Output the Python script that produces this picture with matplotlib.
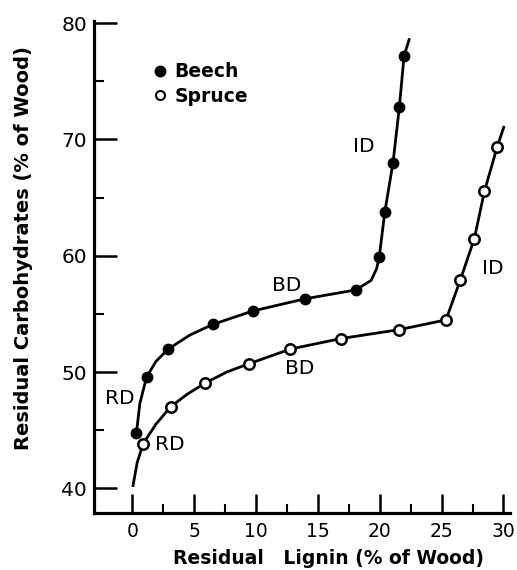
import matplotlib
matplotlib.use("Agg")
import matplotlib.pyplot as plt
from matplotlib.lines import Line2D
from matplotlib.ticker import FixedLocator

# Data
beech_x = [0.32, 1.14, 2.89, 6.49, 9.71, 13.98, 18.07, 19.96, 20.4, 21.07, 21.58, 21.96]
beech_y = [44.74, 49.55, 51.97, 54.09, 55.24, 56.30, 57.06, 59.91, 63.73, 68.01, 72.77, 77.17]
# drawn curve vertices (incl. bends and line ends)
beech_line_x = [0.32, 0.6, 1.14, 1.89, 2.89, 4.65, 6.49, 9.71, 13.98, 18.07, 19.3, 19.75, 19.96, 20.4, 21.07, 21.58, 21.96, 22.37]
beech_line_y = [44.74, 47.3, 49.55, 50.9, 51.97, 53.18, 54.09, 55.24, 56.30, 57.06, 57.88, 58.9, 59.91, 63.73, 68.01, 72.77, 77.17, 78.58]

spruce_x = [0.87, 3.08, 5.87, 9.39, 12.77, 16.88, 21.56, 25.35, 26.5, 27.64, 28.46, 29.48]
spruce_y = [43.84, 47.0, 49.04, 50.70, 51.97, 52.88, 53.64, 54.48, 57.88, 61.46, 65.53, 69.32]
spruce_line_x = [0.05, 0.38, 0.87, 1.89, 3.08, 4.44, 5.87, 7.63, 9.39, 12.77, 16.88, 21.56, 25.35, 26.5, 27.64, 28.46, 29.48, 30.02]
spruce_line_y = [40.24, 42.2, 43.84, 45.5, 47.0, 48.1, 49.04, 50.0, 50.70, 51.97, 52.88, 53.64, 54.48, 57.88, 61.46, 65.53, 69.32, 71.04]

labels = ["RD", "RD", "BD", "BD", "ID", "ID"]
label_x = [-1.03, 3.03, 12.5, 13.5, 18.7, 29.1]
label_y = [47.75, 43.78, 57.42, 50.3, 69.4, 58.94]

x_ticks = [0, 5, 10, 15, 20, 25, 30]
x_minor = [2.5, 7.5, 12.5, 17.5, 22.5, 27.5]
y_ticks = [40, 50, 60, 70, 80]
y_minor = [45, 55, 65, 75]

plt.rcParams['font.family'] = ['DejaVu Sans']

fig = plt.figure(figsize=(5.17, 5.70), dpi=100)
ax = fig.add_axes([0.182, 0.1005, 0.805, 0.863])

lw = 2.0
ax.plot(beech_line_x, beech_line_y, color='black', lw=lw, zorder=2)
ax.plot(spruce_line_x, spruce_line_y, color='black', lw=lw, zorder=2)
ax.plot(beech_x, beech_y, 'o', color='black', ms=7.5, zorder=3)
ax.plot(spruce_x, spruce_y, 'o', mfc='white', mec='black', mew=1.8, ms=7.5, zorder=3)

for t, x, y in zip(labels, label_x, label_y):
    ax.text(x, y, t, ha='center', va='center', fontsize=14.5)

handles = [Line2D([], [], marker='o', ls='none', color='black', ms=7.5),
           Line2D([], [], marker='o', ls='none', mfc='white', mec='black', mew=1.5, ms=6.5)]
ax.legend(handles, ["Beech", "Spruce"], loc='upper left', bbox_to_anchor=(0.146, 0.916),
          frameon=False, handlelength=0.6, handletextpad=0.45, labelspacing=0.3,
          borderpad=0, borderaxespad=0, prop={'size': 13.5, 'weight': 'bold'})

ax.set_xlim(-3.1, 30.55)
ax.set_ylim(37.9, 80.2)
ax.spines['top'].set_visible(False)
ax.spines['right'].set_visible(False)
for s in ['left', 'bottom']:
    ax.spines[s].set_linewidth(2.3)
ax.set_xticks(x_ticks)
ax.set_yticks(y_ticks)
ax.xaxis.set_minor_locator(FixedLocator(x_minor))
ax.yaxis.set_minor_locator(FixedLocator(y_minor))
ax.tick_params(axis='x', which='major', direction='in', length=13.7, width=1.8, labelsize=13.5, pad=7)
ax.tick_params(axis='x', which='minor', direction='in', length=6.5, width=1.5)
ax.tick_params(axis='y', which='major', direction='in', length=16.5, width=1.8, labelsize=14.5, pad=5)
ax.tick_params(axis='y', which='minor', direction='in', length=7.2, width=1.5)

ax.set_xlabel("Residual   Lignin (% of Wood)", fontsize=13.5, fontweight='bold')
ax.set_ylabel("Residual Carbohydrates (% of Wood)", fontsize=14, fontweight='bold')
ax.xaxis.set_label_coords(0.5625, -0.073)
ax.yaxis.set_label_coords(-0.146, 0.539)

fig.savefig("out.png", dpi=100)
